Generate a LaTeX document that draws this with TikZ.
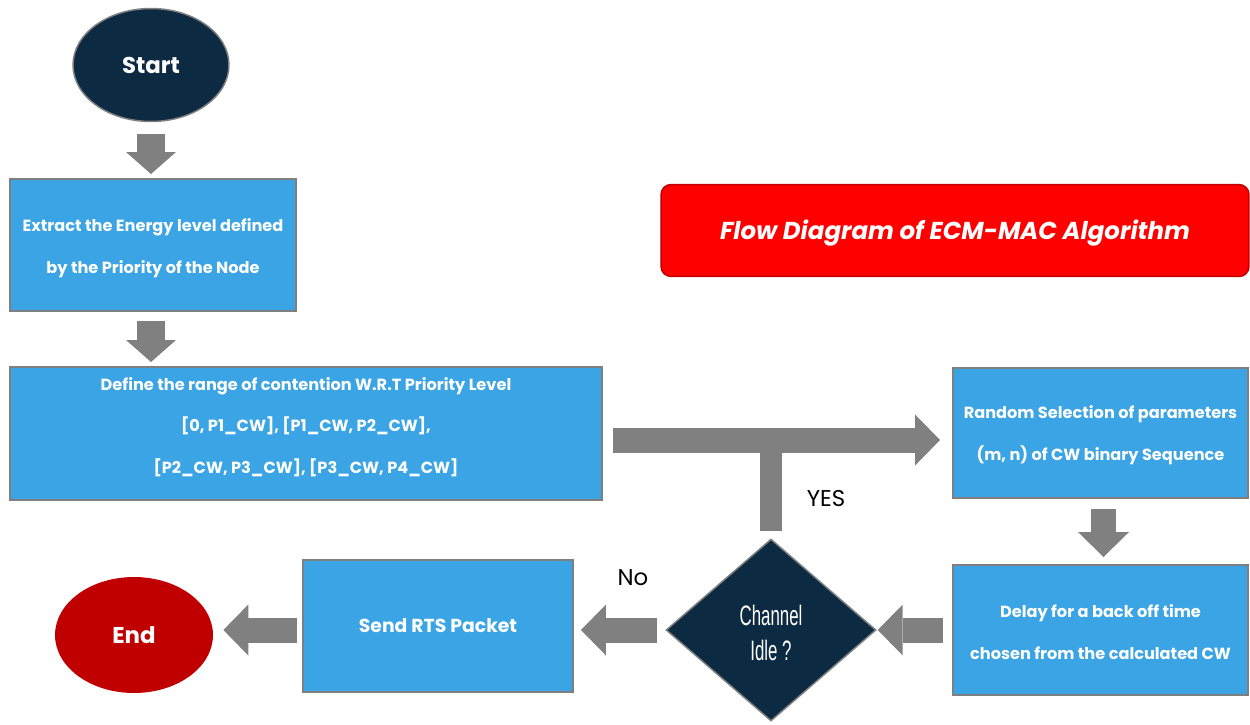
\documentclass[tikz,border=0pt]{standalone}
\usepackage{fontspec}
\usepackage{graphicx}
\setmainfont{Poppins}
\newfontfamily\condfont{Liberation Sans}
\usetikzlibrary{shapes.geometric,arrows.meta,calc}
\definecolor{navy}{HTML}{0C2A42}
\definecolor{boxblue}{HTML}{3AA4E5}
\definecolor{boxborder}{HTML}{7F7F7F}
\definecolor{arrowgray}{HTML}{808080}
\definecolor{endred}{HTML}{C00000}
\definecolor{titlered}{HTML}{FF0000}
\definecolor{titleborder}{HTML}{C00000}
\newcommand\bxfont{\bfseries\fontsize{9.2}{23.6}\selectfont}
\begin{document}
\begin{tikzpicture}[x=0.02cm,y=-0.02cm,
  procbox/.style={rectangle, draw=boxborder, line width=0.04cm, fill=boxblue,
    text=white, font=\bxfont, align=center, inner sep=0pt},
  termnode/.style={ellipse, inner sep=0pt, text=white,
    font=\bfseries\fontsize{13}{15}\selectfont},
  vblock/.style={draw=arrowgray, line width=0.56cm,
    -{Triangle[width=1.0cm,length=0.44cm,line width=0pt]}},
  block/.style={draw=arrowgray, line width=0.5cm,
    -{Triangle[width=1.02cm,length=0.5cm,line width=0pt]}},
  stem/.style={draw=arrowgray, line width=0.44cm},
  answer/.style={text=black, inner sep=0pt, font=\fontsize{13}{15}\selectfont}
]
\useasboundingbox (0,0) rectangle (1250,724);

% nodes
\node[termnode, fill=navy, draw=boxborder, line width=0.03cm,
  minimum width=3.12cm, minimum height=2.26cm] (start) at (151,65) {Start};
\node[procbox, minimum width=5.72cm, minimum height=2.64cm] (box1) at (153,245) {};
\node[text=white, font=\bxfont, align=center, inner sep=0pt] (box1text) at (153,248)
  {Extract the Energy level defined\\by the Priority of the Node};
\node[procbox, minimum width=11.84cm, minimum height=2.66cm] (box2) at (306,433.5) {};
\node[text=white, font=\bxfont, align=center, inner sep=0pt] (box2text) at (306,427)
  {Define the range of contention W.R.T Priority Level\\{}[0, P1\_CW], [P1\_CW, P2\_CW],\\{}[P2\_CW, P3\_CW], [P3\_CW, P4\_CW]};
\node[procbox, minimum width=5.9cm, minimum height=2.6cm] (rand) at (1100.5,433) {};
\node[text=white, font=\bxfont, align=center, inner sep=0pt] (randtext) at (1100.5,435)
  {Random Selection of parameters\\(m, n) of CW binary Sequence};
\node[procbox, minimum width=5.9cm, minimum height=2.6cm] (delay) at (1100.5,630) {};
\node[text=white, font=\bxfont, align=center, inner sep=0pt] (delaytext) at (1100.5,632)
  {Delay for a back off time\\chosen from the calculated CW};
\node[diamond, fill=navy, draw=boxborder, line width=0.03cm, inner sep=0pt,
  minimum width=4.2cm, minimum height=3.64cm, text=white] (idle) at (771,630) {};
\node[text=white, inner sep=0pt, font=\condfont\fontsize{16}{20}\selectfont] (idletext) at (771,636)
  {\scalebox{0.6}[1]{\begin{tabular}{@{}c@{}}Channel\\Idle ?\end{tabular}}};
\node[procbox, font=\bfseries\fontsize{10.7}{12}\selectfont,
  minimum width=5.4cm, minimum height=2.64cm] (send) at (438,626) {Send RTS Packet};
\node[termnode, fill=endred, minimum width=3.16cm, minimum height=2.32cm] (endn) at (134,635) {End};
\node[rectangle, rounded corners=0.2cm, fill=titlered, draw=titleborder, line width=0.03cm,
  minimum width=11.76cm, minimum height=1.84cm, text=white,
  font=\bfseries\itshape\fontsize{13.9}{15}\selectfont] (title) at (955,230.5) {};
\node[text=white, inner sep=0pt, font=\bfseries\itshape\fontsize{13.9}{15}\selectfont]
  (titletext) at (955,233) {Flow Diagram of ECM-MAC Algorithm};

\node[answer] (yes) at (826,499) {YES};
\node[answer] (no) at (633,578) {No};

\coordinate (jct) at (772,440);

% connectors
\draw[vblock, shorten <=0.24cm, shorten >=0.08cm] (start.south) -- (start.south |- box1.north);
\draw[vblock, shorten <=0.18cm, shorten >=0.08cm] (box1.south -| start.south) -- (box2.north -| start.south);
\draw[stem, shorten <=0.14cm] (idle.north) -- (idle.north |- jct);
\draw[block, shorten <=0.2cm, shorten >=0.24cm] (box2.east |- jct) -- (rand.west |- jct);
\draw[block, shorten <=0.2cm, shorten >=0.14cm] ([xshift=0.06cm]rand.south) -- ([xshift=0.06cm]delay.north);
\draw[block, shorten <=0.18cm, shorten >=0.02cm] (delay.west) -- (idle.east);
\draw[block, shorten <=0.16cm, shorten >=0.14cm] (idle.west) -- (send.east |- idle.west);
\draw[block, shorten <=0.1cm, shorten >=0.2cm] (send.west |- idle.west) -- (endn.east |- idle.west);
\end{tikzpicture}
\end{document}
